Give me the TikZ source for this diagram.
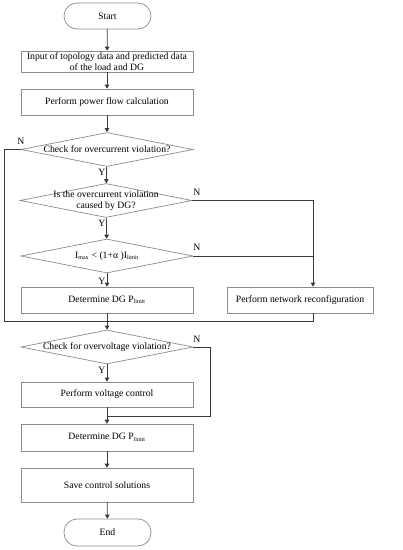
\documentclass[tikz,border=0pt]{standalone}
\usepackage{fontspec}
\setmainfont{Liberation Serif}
\usetikzlibrary{shapes.geometric,arrows.meta,calc}
\newcommand\lsub[1]{\textsubscript{\fontsize{6}{7}\selectfont #1}}
\definecolor{boxgray}{HTML}{8C8C8C}
\definecolor{linegray}{HTML}{3A3A3A}
\tikzset{
  base/.style={draw=boxgray, line width=0.7pt, fill=white, inner sep=0pt, align=center, font=\fontsize{9.7}{12}\selectfont},
  proc/.style={base, rectangle, minimum width=172pt},
  term/.style={base, rectangle, rounded corners=13pt, minimum width=87pt, minimum height=26pt},
  dec/.style={base, diamond, minimum width=172pt, minimum height=34pt, aspect=5},
  conn/.style={draw=linegray, line width=0.8pt},
  arr/.style={conn, -{Triangle[length=4pt,width=4.5pt]}},
  lab/.style={font=\fontsize{9.7}{12}\selectfont, inner sep=0pt}
}
\begin{document}
\begin{tikzpicture}[x=1pt,y=-1pt]
\useasboundingbox (0,0) rectangle (403,550);
\node[term] (start) at (107.5,16) {Start};
\node[proc, minimum height=21pt, font=\fontsize{9.7}{11}\selectfont] (in) at (107,61.5) {Input of topology data and predicted data\\of the load and DG};
\node[proc, minimum height=26pt] (pf) at (107,102) {Perform power flow calculation};
\node[dec] (d1) at (107,149.5) {};
\node[lab] at (d1) {Check for overcurrent violation?};
\node[dec] (d2) at (106,200.5) {};
\node[lab, align=center, font=\fontsize{9.7}{11}\selectfont] at (d2) {Is the overcurrent violation\\caused by DG?};
\node[dec] (d3) at (107,256) {};
\node[lab] at (d3) {I\lsub{max} < (1+α )I\lsub{limit}};
\node[proc, minimum height=26pt] (det1) at (107,300) {Determine DG P\lsub{limit}};
\node[proc, minimum width=146pt, minimum height=26pt] (net) at (300,300) {Perform network reconfiguration};
\node[dec] (d4) at (107,347) {};
\node[lab] at (d4) {Check for overvoltage violation?};
\node[proc, minimum height=25pt] (vc) at (107,394.5) {Perform voltage control};
\node[proc, minimum height=27pt] (det2) at (107,437.5) {Determine DG P\lsub{limit}};
\node[proc, minimum height=34pt] (save) at (107,485) {Save control solutions};
\node[term, minimum height=27pt] (end) at (107.5,532.5) {End};

\coordinate (rx) at ([xshift=13pt]net.north);
\coordinate (m1) at (107,321);
\coordinate (lx) at (4,149.5);
\coordinate (m2) at (107,416);
\coordinate (vx) at (210,347);

\draw[arr] (start) -- (in);
\draw[arr] (in) -- (pf);
\draw[arr] (pf) -- (d1);
\draw[arr] (d1) -- (d2);
\draw[arr] (d2) -- (d3);
\draw[arr] (d3) -- (det1);
\draw[arr] (d2.east) -| (rx);
\draw[conn] (d3.east) -- (d3.east -| rx);
\draw[conn] (d1.west) -- (lx) |- (m1);
\draw[conn] (det1.south) -- (m1);
\draw[conn] (rx |- net.south) |- (m1);
\draw[arr] (m1) -- (d4.north);
\draw[arr] (d4) -- (vc);
\draw[conn] (d4.east) -- (vx) |- (m2);
\draw[conn] (vc.south) -- (m2);
\draw[arr] (m2) -- (det2.north);
\draw[arr] (det2) -- (save);
\draw[arr] (save) -- (end);

\node[lab] at (21,141) {N};
\node[lab] at (102,172) {Y};
\node[lab] at (197,192) {N};
\node[lab] at (102,223) {Y};
\node[lab] at (197,247) {N};
\node[lab] at (102,281) {Y};
\node[lab] at (197,339) {N};
\node[lab] at (102,370) {Y};
\end{tikzpicture}
\end{document}
